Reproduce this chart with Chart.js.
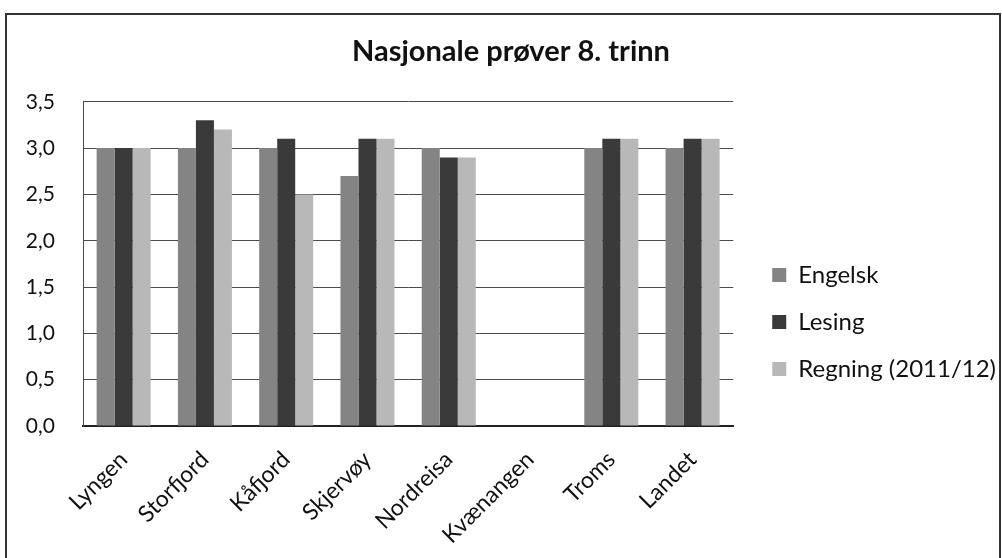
<!DOCTYPE html>
<html>
<head>
<meta charset="utf-8">
<script src="https://cdn.jsdelivr.net/npm/chart.js@4/dist/chart.umd.min.js"></script>
<style>
  body { margin: 0; background: #fff; }
  #wrap { position: relative; width: 1002px; height: 558px; overflow: hidden; }
  #ramme { position: absolute; left: 5px; top: 13px; width: 992px; height: 600px;
           border: 2px solid #333; pointer-events: none; }
  canvas { position: absolute; left: 0; top: 0; }
</style>
</head>
<body>
<div id="wrap">
  <canvas id="graf" width="1002" height="558"></canvas>
  <div id="ramme"></div>
</div>
<script>
// =========================
// DATA
// =========================
const kommuner = ["Lyngen", "Storfjord", "Kåfjord", "Skjervøy", "Nordreisa", "Kvænangen", "Troms", "Landet"];
const engelsk = [3.0, 3.0, 3.0, 2.7, 3.0, null, 3.0, 3.0];
const lesing  = [3.0, 3.3, 3.1, 3.1, 2.9, null, 3.1, 3.1];
const regning = [3.0, 3.2, 2.5, 3.1, 2.9, null, 3.1, 3.1];

const font = "Lato, 'Noto Sans', sans-serif";

// =========================
// GRAF
// =========================
const ctx = document.getElementById("graf").getContext("2d");

new Chart(ctx, {
  type: "bar",
  data: {
    labels: kommuner,
    datasets: [
      { label: "Engelsk", data: engelsk, backgroundColor: "#848484" },
      { label: "Lesing", data: lesing, backgroundColor: "#3a3a3a" },
      { label: "Regning (2011/12)", data: regning, backgroundColor: "#b8b8b8" }
    ]
  },
  options: {
    responsive: false,
    animation: false,
    datasets: {
      bar: { barPercentage: 1, categoryPercentage: 0.665, borderWidth: 0 }
    },
    layout: { padding: { left: 16, right: -4, top: 0, bottom: 12 } },
    scales: {
      x: {
        grid: { display: false },
        border: { display: true, color: "#222", width: 2 },
        ticks: {
          color: "#111",
          font: { family: font, size: 23 },
          maxRotation: 45,
          minRotation: 45,
          padding: 12
        },
        afterFit: s => { s.height = 120; }
      },
      y: {
        min: 0,
        max: 3.5,
        grid: { color: "#4a4a4a", lineWidth: 1, drawTicks: false },
        border: { display: true, color: "#4a4a4a", width: 1 },
        ticks: {
          stepSize: 0.5,
          padding: 28,
          color: "#111",
          font: { family: font, size: 21 },
          callback: v => v.toFixed(1).replace(".", ",")
        },
        afterFit: s => { s.width = 67; }
      },
      // tom akse som gir luft mellom plott og forklaring
      y2: {
        position: "right",
        grid: { display: false },
        border: { display: false },
        ticks: { display: false },
        afterFit: s => { s.width = 16; }
      }
    },
    plugins: {
      title: {
        display: true,
        text: "Nasjonale prøver 8. trinn",
        color: "#111",
        font: { family: font, size: 29, weight: "bold" },
        padding: { top: 34, bottom: 33 }
      },
      legend: {
        position: "right",
        maxWidth: 320,
        title: { display: true, text: " ", font: { size: 10 }, padding: { top: 86, bottom: 0 } },
        labels: {
          color: "#111",
          font: { family: font, size: 24 },
          boxWidth: 14,
          boxHeight: 14,
          padding: 23
        }
      },
      tooltip: { enabled: false }
    }
  }
});
</script>
</body>
</html>
